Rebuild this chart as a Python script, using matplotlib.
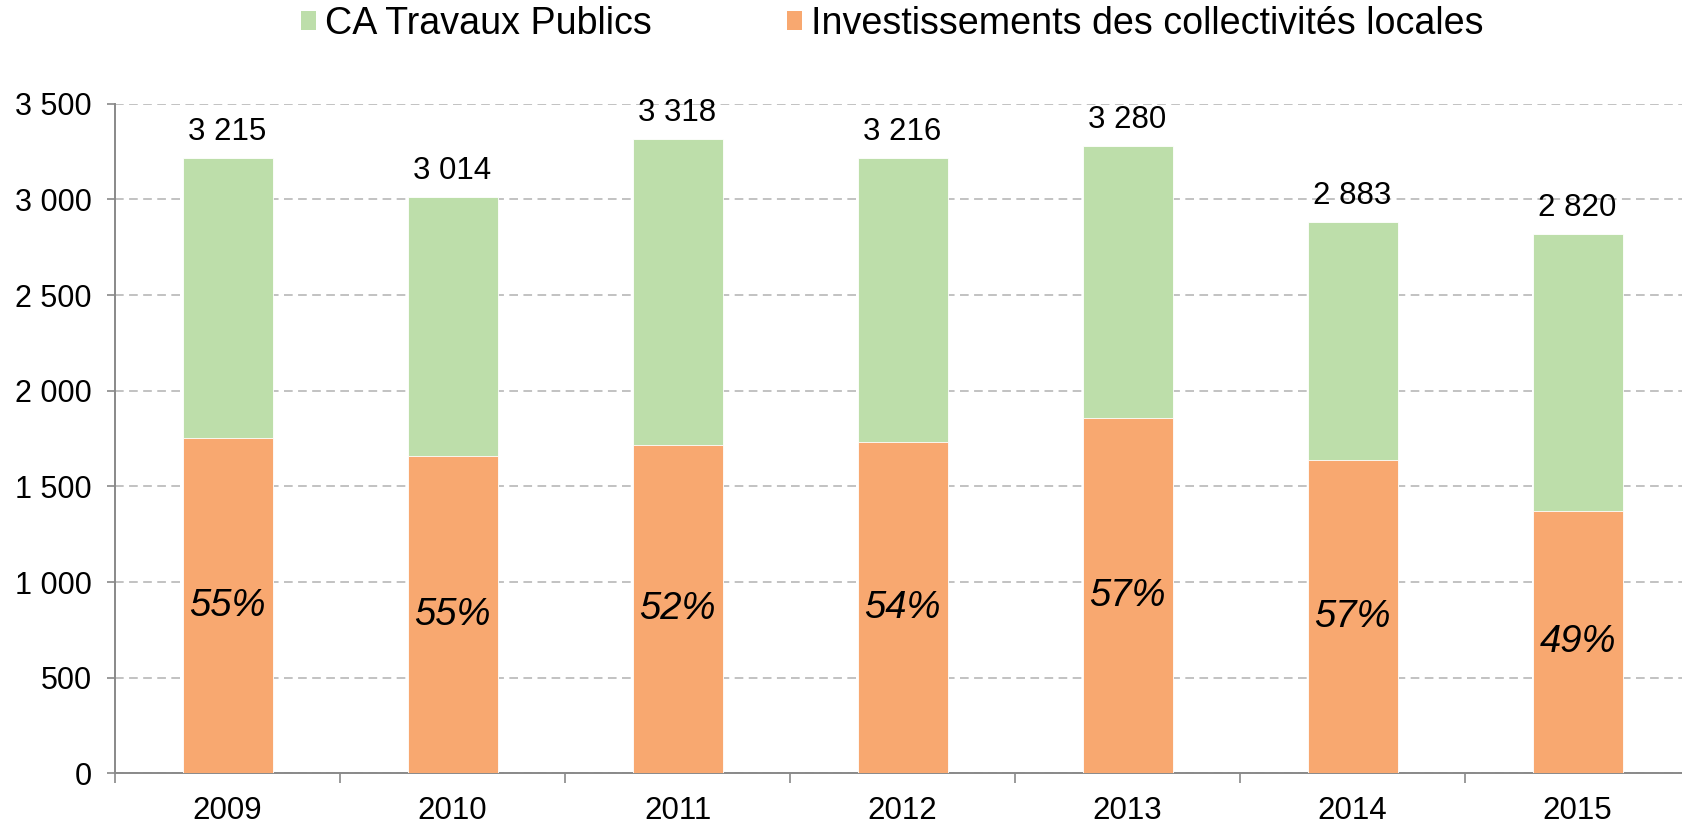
import matplotlib
matplotlib.use("Agg")
import matplotlib.pyplot as plt
from matplotlib.patches import Patch
from matplotlib.ticker import FuncFormatter, FixedLocator
import numpy as np

years = ["2009", "2010", "2011", "2012", "2013", "2014", "2015"]
ca_tp = [3215, 3014, 3318, 3216, 3280, 2883, 2820]
invest = [1752, 1660, 1717, 1733, 1858, 1639, 1371]
pct_labels = ["55%", "55%", "52%", "54%", "57%", "57%", "49%"]
series_names = ["CA Travaux Publics", "Investissements des collectivités locales"]
yticks = [0, 500, 1000, 1500, 2000, 2500, 3000, 3500]

green = "#BDDEAA"
orange = "#F8A870"
axis_gray = "#898989"
grid_gray = "#BDBDBD"

plt.rcParams["font.family"] = ["Liberation Sans", "DejaVu Sans"]

fig = plt.figure(figsize=(16.82, 8.26), dpi=100)
W, H = 1682, 826
ax = fig.add_axes([115 / W, (H - 773.3) / H, 1575 / W, (773.3 - 103.8) / H])

x = np.arange(len(years))
bw = 0.40
b1 = ax.bar(x, ca_tp, width=bw, color=green, edgecolor="white", linewidth=0.6, zorder=2)
b2 = ax.bar(x, invest, width=bw, color=orange, edgecolor="white", linewidth=0.6, zorder=3)

fmt = lambda v: f"{int(v):,}".replace(",", " ")
ax.bar_label(b1, labels=[fmt(v) for v in ca_tp], padding=8, fontsize=22.5, color="black")
ax.bar_label(b2, labels=pct_labels, label_type="center", fontsize=27.5,
             fontstyle="italic", color="black")

ax.set_xlim(-0.5, len(years) - 0.5)
ax.set_ylim(0, 3500)
ax.set_yticks(yticks)
ax.yaxis.set_major_formatter(FuncFormatter(lambda v, p: fmt(v)))
ax.set_xticks(x)
ax.set_xticklabels(years)
ax.xaxis.set_minor_locator(FixedLocator(np.arange(-0.5, len(years) + 0.5, 1.0)))

ax.tick_params(axis="x", which="major", length=0, pad=16, labelsize=22.5)
ax.tick_params(axis="x", which="minor", length=7.2, width=1.2, color=axis_gray, direction="out")
ax.tick_params(axis="y", which="major", length=5.8, width=1.2, color=axis_gray,
               pad=11, labelsize=22, direction="out")

for s in ["top", "right"]:
    ax.spines[s].set_visible(False)
for s in ["left", "bottom"]:
    ax.spines[s].set_color(axis_gray)
    ax.spines[s].set_linewidth(1.4)

ax.set_axisbelow(True)
ax.yaxis.grid(True, color=grid_gray, linewidth=1.3, linestyle=(0, (4.8, 3.0)))
ax.xaxis.grid(False)

handles = [Patch(facecolor=green, edgecolor="none"), Patch(facecolor=orange, edgecolor="none")]
fig.legend(handles, series_names, loc="center", bbox_to_anchor=(892 / W, 1 - 24 / H),
           ncol=2, frameon=False, fontsize=27.1, handlelength=0.4, handleheight=0.4,
           handletextpad=0.23, columnspacing=3.6, borderpad=0, borderaxespad=0)

fig.savefig("out.png", dpi=100)
